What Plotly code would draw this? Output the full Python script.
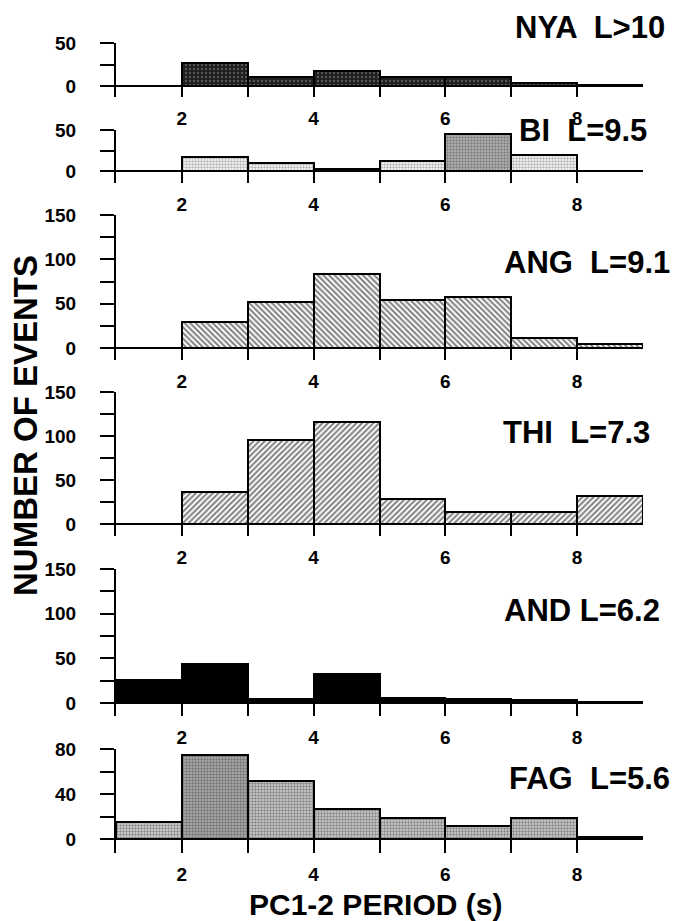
import plotly.graph_objects as go

# ---- data ----
bin_left = [1, 2, 3, 4, 5, 6, 7, 8]          # period bins (s), each 1 s wide
nya = [0, 27, 11, 18, 11, 10, 3, 1]
bi = [0, 17, 10, 3, 12, 45, 19, 0]
ang = [0, 29, 52, 83, 54, 58, 11, 4]
thi = [0, 36, 95, 116, 28, 14, 14, 32]
and_ = [26, 44, 4, 32, 6, 4, 3, 1]
fag = [15, 75, 52, 27, 19, 12, 19, 2]

station_labels = ["NYA  L>10", "BI  L=9.5", "ANG  L=9.1", "THI  L=7.3", "AND L=6.2", "FAG  L=5.6"]
x_tick_vals = [1, 2, 3, 4, 5, 6, 7, 8, 9]
x_tick_text = ["", "2", "", "4", "", "6", "", "8", ""]
y_ticks_50 = [0, 25, 50]
y_text_50 = ["0", "", "50"]
y_ticks_150 = [0, 25, 50, 75, 100, 125, 150]
y_text_150 = ["0", "", "50", "", "100", "", "150"]
y_ticks_80 = [0, 20, 40, 60, 80]
y_text_80 = ["0", "", "40", "", "80"]
x_title = "PC1-2 PERIOD (s)"
y_title = "NUMBER OF EVENTS"

# ---- layout geometry (pixels) ----
W, H = 678, 921
X0_PX, X1_PX = 116, 643
FONT = "Liberation Sans, Arial, sans-serif"

panels = [
    dict(v=nya, ymax=50, top=43, zero=86, bot=97, ly=27, lx=667, yt=y_ticks_50, ytt=y_text_50,
         color="#2a2a2a", pat=dict(shape=".", fgcolor="#9a9a9a", bgcolor="#1e1e1e", size=4, solidity=0.25)),
    dict(v=bi, ymax=50, top=130, zero=171, bot=183, ly=130, lx=649, yt=y_ticks_50, ytt=y_text_50,
         color="#c8c8c8", pat=dict(shape=".", fgcolor=["#666666"] * 5 + ["#444444"] + ["#666666"] * 2,
                                   bgcolor=["#ffffff"] * 5 + ["#b8b8b8"] + ["#ffffff"] * 2, size=3, solidity=0.5)),
    dict(v=ang, ymax=150, top=215, zero=348, bot=360, ly=262, lx=672, yt=y_ticks_150, ytt=y_text_150,
         color="#ffffff", pat=dict(shape="\\", fgcolor="#000000", bgcolor="#ffffff", size=4, solidity=0.5)),
    dict(v=thi, ymax=150, top=392, zero=524, bot=536, ly=432, lx=652, yt=y_ticks_150, ytt=y_text_150,
         color="#ffffff", pat=dict(shape="/", fgcolor="#000000", bgcolor="#ffffff", size=4, solidity=0.5)),
    dict(v=and_, ymax=150, top=569, zero=703, bot=716, ly=610, lx=662, yt=y_ticks_150, ytt=y_text_150,
         color="#000000", pat=None),
    dict(v=fag, ymax=80, top=749, zero=839, bot=853, ly=778, lx=672, yt=y_ticks_80, ytt=y_text_80,
         color="#bbbbbb", pat=dict(shape=".", fgcolor="#3a3a3a",
                                   bgcolor=["#d8d8d8", "#b0b0b0"] + ["#d0d0d0"] * 6, size=3, solidity=0.5)),
]

fig = go.Figure()
layout = dict(
    width=W, height=H,
    margin=dict(l=0, r=0, t=0, b=0, pad=0, autoexpand=False),
    paper_bgcolor="white", plot_bgcolor="white",
    showlegend=False, bargap=0,
    font=dict(family=FONT, size=19, color="black", weight="bold"),
)
annotations = []
xd = [X0_PX / W, X1_PX / W]

centers = [b + 0.5 for b in bin_left]

for i, p in enumerate(panels):
    n = i + 1
    sfx = "" if n == 1 else str(n)
    marker = dict(color=p["color"], line=dict(color="black", width=2))
    if p["pat"] is not None:
        marker["pattern"] = p["pat"]
    fig.add_trace(go.Bar(x=centers, y=p["v"], width=[1] * len(centers), marker=marker,
                         xaxis="x" + sfx, yaxis="y" + sfx, hoverinfo="x+y"))
    ymin = -p["ymax"] * (p["bot"] - p["zero"]) / (p["zero"] - p["top"])
    layout["xaxis" + sfx] = dict(
        domain=xd, range=[1, 9], anchor="y" + sfx, automargin=False,
        tickmode="array", tickvals=x_tick_vals, ticktext=x_tick_text,
        ticks="inside", ticklen=p["bot"] - p["zero"], tickwidth=2, tickcolor="black",
        showline=False, showgrid=False, zeroline=False,
        ticklabelstandoff=8,
        tickfont=dict(family=FONT, size=19, color="black", weight="bold"),
    )
    layout["yaxis" + sfx] = dict(
        domain=[1 - p["bot"] / H, 1 - p["top"] / H], range=[ymin, p["ymax"]], anchor="x" + sfx,
        automargin=False,
        tickmode="array", tickvals=p["yt"], ticktext=p["ytt"],
        ticks="outside", ticklen=14, tickwidth=2, tickcolor="black",
        showline=True, linecolor="black", linewidth=2,
        showgrid=False, zeroline=True, zerolinecolor="black", zerolinewidth=2,
        ticklabelstandoff=20,
        tickfont=dict(family=FONT, size=19, color="black", weight="bold"),
    )
    annotations.append(dict(text=station_labels[i], xref="paper", yref="paper",
                            x=p["lx"] / W, y=1 - p["ly"] / H, xanchor="right", yanchor="middle",
                            showarrow=False,
                            font=dict(family=FONT, size=31, color="black", weight="bold")))

annotations.append(dict(text=x_title, xref="paper", yref="paper", x=375 / W, y=1 - 904 / H,
                        xanchor="center", yanchor="middle", showarrow=False,
                        font=dict(family=FONT, size=30, color="black", weight="bold")))
annotations.append(dict(text=y_title, xref="paper", yref="paper", x=25 / W, y=1 - 426 / H,
                        xanchor="center", yanchor="middle", showarrow=False, textangle=-90,
                        font=dict(family=FONT, size=33, color="black", weight="bold")))

layout["annotations"] = annotations
fig.update_layout(**layout)
fig.write_html("out.html", config={"displayModeBar": False},
               post_script="document.body.style.margin='0';document.body.style.overflow='hidden';")
